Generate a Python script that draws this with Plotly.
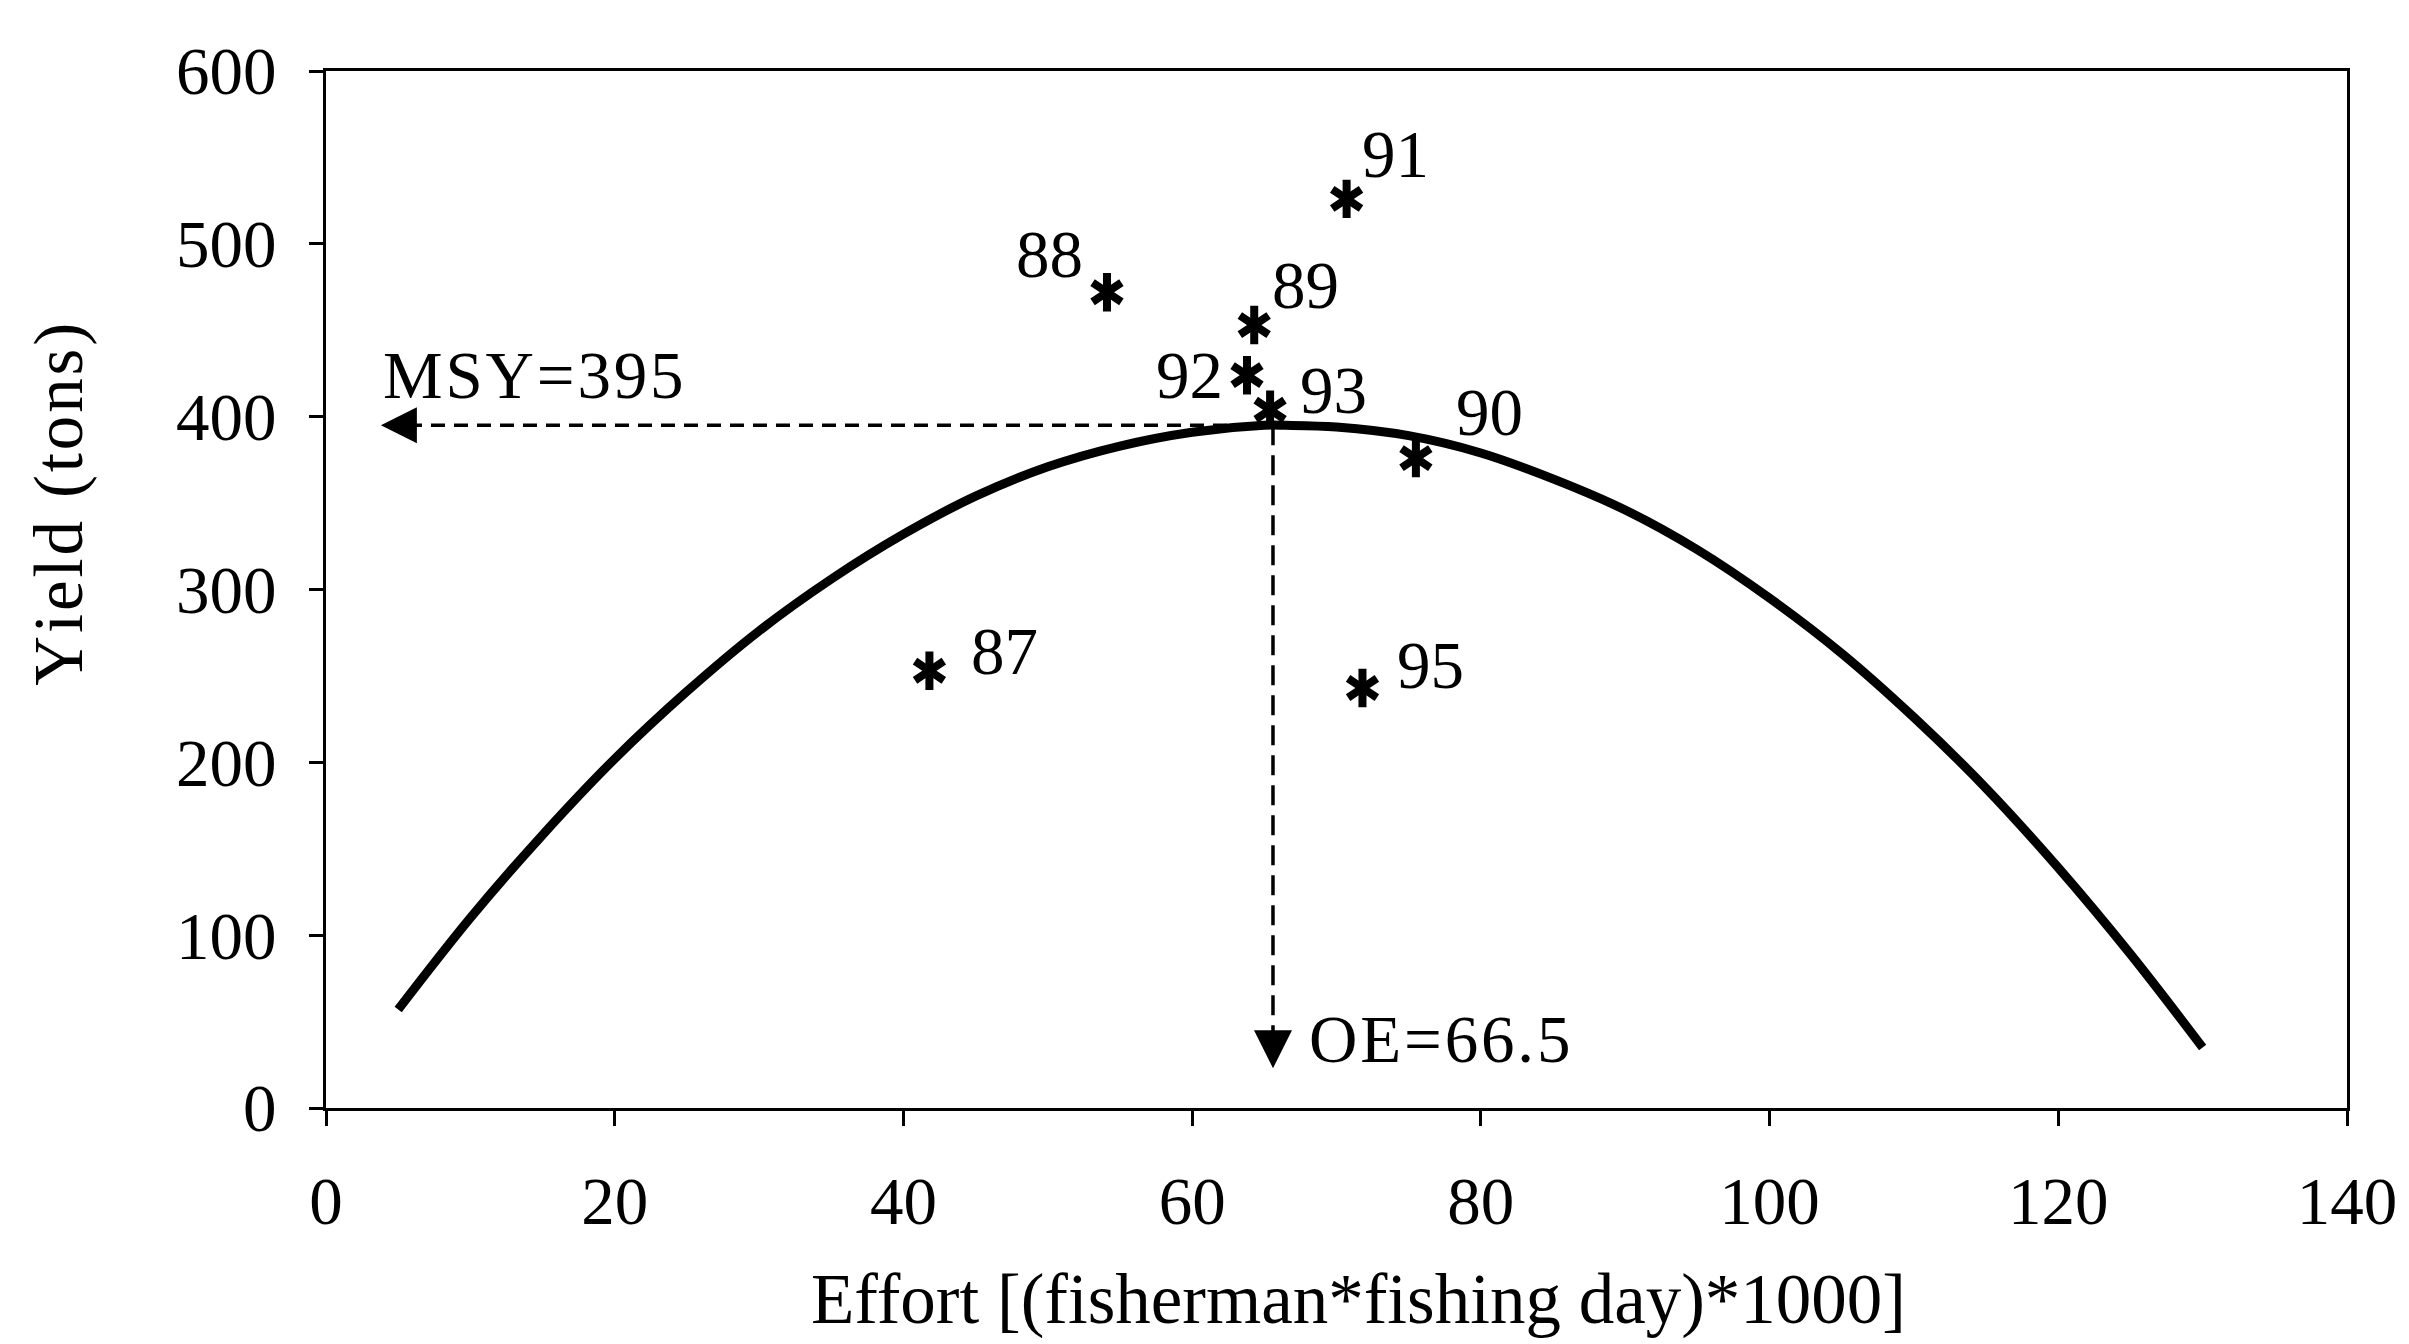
import plotly.graph_objects as go

# ---- data ----
curve_effort = [5, 10, 15, 20, 25, 30, 35, 40, 45, 50, 55, 60, 65, 66.5, 70, 75, 80, 85, 90, 95, 100, 105, 110, 115, 120, 125, 130]
curve_yield = [57, 110, 158, 202, 241, 276, 306, 332, 354, 371, 383, 391, 395, 395, 394, 389, 379, 364, 346, 323, 295, 263, 226, 185, 139, 89, 35]

years = ["87", "88", "89", "91", "92", "93", "90", "95"]
obs_effort = [41.8, 54.1, 64.3, 70.7, 63.8, 65.4, 75.5, 71.8]
obs_yield = [253, 472, 453, 526, 424, 404, 376, 243]

msy = 395
oe = 65.6
msy_arrow_tip_x = 3.8
oe_arrow_tip_y = 23

x_ticks = [0, 20, 40, 60, 80, 100, 120, 140]
y_ticks = [0, 100, 200, 300, 400, 500, 600]

msy_text = "MSY=395"
oe_text = "OE=66.5"
y_title = "Yield (tons)"
x_title = "Effort [(fisherman*fishing day)*1000]"

# ---- styles ----
FONT = "Liberation Serif"
FS = 67
GAP = '<span style="font-size:34px">\u200a</span>'
label_dx = [75, -57, 51, 49, -58, 63, 74, 68]
label_dy = [20, 38, 40, 45, 0, 20, 46, 23]


def spaced(s):
    return GAP.join(list(s))


fig = go.Figure()

fig.add_trace(go.Scatter(x=curve_effort, y=curve_yield, mode="lines",
                         line=dict(color="black", width=9, shape="spline"),
                         hoverinfo="skip", showlegend=False))

# dashed MSY / OE guide lines
fig.add_trace(go.Scatter(x=[oe, msy_arrow_tip_x + 1.5], y=[msy, msy], mode="lines",
                         line=dict(color="black", width=3.5, dash="14px,9px"),
                         showlegend=False))
fig.add_trace(go.Scatter(x=[oe, oe], y=[msy, oe_arrow_tip_y + 10], mode="lines",
                         line=dict(color="black", width=3.5, dash="20px,10px"),
                         showlegend=False))
fig.add_trace(go.Scatter(x=[msy_arrow_tip_x], y=[msy], mode="markers",
                         marker=dict(symbol="arrow-left", size=36, color="black"),
                         showlegend=False))
fig.add_trace(go.Scatter(x=[oe], y=[oe_arrow_tip_y], mode="markers",
                         marker=dict(symbol="arrow-down", size=38, color="black"),
                         showlegend=False))

# six-armed asterisks (two overlaid three-armed marks)
for sym in ["y-up-open", "y-down-open"]:
    fig.add_trace(go.Scatter(x=obs_effort, y=obs_yield, mode="markers",
                             marker=dict(symbol=sym, size=24, color="black",
                                         line=dict(color="black", width=8)),
                             showlegend=False))

annotations = []
for yr, ex, ey, dx, dy in zip(years, obs_effort, obs_yield, label_dx, label_dy):
    annotations.append(dict(x=ex, y=ey, xref="x", yref="y", text=yr, showarrow=False,
                            xshift=dx, yshift=dy, font=dict(family=FONT, size=FS, color="black")))

annotations.append(dict(x=msy_arrow_tip_x, y=msy, xref="x", yref="y", text=spaced(msy_text),
                        showarrow=False, xanchor="left", yanchor="middle", yshift=50,
                        font=dict(family=FONT, size=FS, color="black")))
annotations.append(dict(x=oe, y=oe_arrow_tip_y, xref="x", yref="y", text=spaced(oe_text),
                        showarrow=False, xanchor="left", yanchor="middle", xshift=34, yshift=29,
                        font=dict(family=FONT, size=FS, color="black")))
annotations.append(dict(x=-0.132, y=0.582, xref="paper", yref="paper", text=spaced(y_title),
                        showarrow=False, textangle=-90, xanchor="center", yanchor="middle",
                        font=dict(family=FONT, size=FS + 2, color="black")))
annotations.append(dict(x=0.511, y=-0.185, xref="paper", yref="paper",
                        text=x_title,
                        showarrow=False, xanchor="center", yanchor="middle",
                        font=dict(family=FONT, size=FS + 4, color="black")))

fig.update_layout(
    width=2409, height=1344,
    margin=dict(l=326, r=59, t=71, b=236),
    paper_bgcolor="white", plot_bgcolor="white",
    annotations=annotations,
    showlegend=False,
)
fig.update_xaxes(range=[0, 140], tickvals=x_ticks, ticktext=[str(v) for v in x_ticks],
                 showgrid=False, zeroline=False, showline=True, linecolor="black", linewidth=3,
                 mirror=True, ticks="outside", ticklen=15, tickwidth=3, tickcolor="black",
                 ticklabelstandoff=18, ticklabeloverflow="allow",
                 tickfont=dict(family=FONT, size=FS, color="black"))
fig.update_yaxes(range=[0, 600], tickvals=y_ticks, ticktext=[str(v) for v in y_ticks],
                 showgrid=False, zeroline=False, showline=True, linecolor="black", linewidth=3,
                 mirror=True, ticks="outside", ticklen=14, tickwidth=3, tickcolor="black",
                 ticklabelstandoff=19,
                 tickfont=dict(family=FONT, size=FS, color="black"))

fig.write_html("out.html", config={"displayModeBar": False},
               post_script="document.body.style.margin='0';document.body.style.overflow='hidden';")
